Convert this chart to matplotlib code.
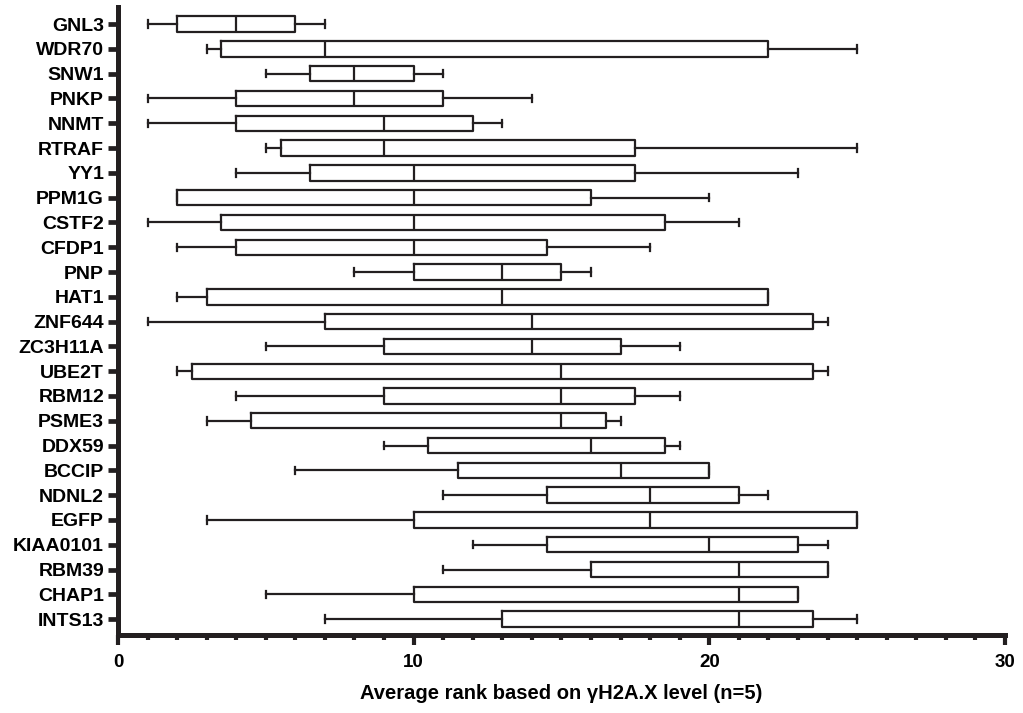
import matplotlib
matplotlib.use("Agg")
import matplotlib.pyplot as plt

# Genes from top to bottom
genes = ["GNL3", "WDR70", "SNW1", "PNKP", "NNMT", "RTRAF", "YY1", "PPM1G",
         "CSTF2", "CFDP1", "PNP", "HAT1", "ZNF644", "ZC3H11A", "UBE2T",
         "RBM12", "PSME3", "DDX59", "BCCIP", "NDNL2", "EGFP", "KIAA0101",
         "RBM39", "CHAP1", "INTS13"]

# min, Q1, median, Q3, max
mins = [1, 3, 5, 1, 1, 5, 4, 2, 1, 2, 8, 2, 1, 5, 2, 4, 3, 9, 6, 11, 3, 12, 11, 5, 7]
q1s = [2, 3.5, 6.5, 4, 4, 5.5, 6.5, 2, 3.5, 4, 10, 3, 7, 9, 2.5, 9, 4.5, 10.5, 11.5,
       14.5, 10, 14.5, 16, 10, 13]
medians = [4, 7, 8, 8, 9, 9, 10, 10, 10, 10, 13, 13, 14, 14, 15, 15, 15, 16, 17, 18,
           18, 20, 21, 21, 21]
q3s = [6, 22, 10, 11, 12, 17.5, 17.5, 16, 18.5, 14.5, 15, 22, 23.5, 17, 23.5, 17.5,
       16.5, 18.5, 20, 21, 25, 23, 24, 23, 23.5]
maxs = [7, 25, 11, 14, 13, 25, 23, 20, 21, 18, 16, 22, 24, 19, 24, 19, 17, 19, 20, 22,
        25, 24, 24, 23, 25]

ink = "#231f20"
plt.rcParams["font.family"] = ["Liberation Sans", "DejaVu Sans"]
plt.rcParams["font.weight"] = "bold"

fig = plt.figure(figsize=(10.23, 7.13), dpi=100)
ax = fig.add_axes([0.1153, 0.1094, 0.8671, 0.8808])

stats = []
for g, lo, a, m, b, hi in zip(genes, mins, q1s, medians, q3s, maxs):
    stats.append({"label": g, "whislo": lo, "q1": a, "med": m, "q3": b,
                  "whishi": hi, "fliers": []})

pos = list(range(len(genes)))
lw = 1.6
ax.bxp(stats, positions=pos, widths=0.62, orientation="horizontal",
       showfliers=False, capwidths=0.3,
       boxprops=dict(color=ink, linewidth=lw),
       whiskerprops=dict(color=ink, linewidth=lw),
       capprops=dict(color=ink, linewidth=lw),
       medianprops=dict(color=ink, linewidth=lw))

ax.set_ylim(24.64, -0.69)
ax.set_xlim(0, 30)

for s in ["top", "right"]:
    ax.spines[s].set_visible(False)
for s in ["left", "bottom"]:
    ax.spines[s].set_linewidth(3.6)
    ax.spines[s].set_color(ink)

ax.set_xticks([0, 10, 20, 30])
ax.set_xticks(range(0, 31), minor=True)
ax.tick_params(axis="x", which="major", length=7, width=3, color=ink,
               labelsize=13.5, pad=7)
ax.tick_params(axis="x", which="minor", length=3.8, width=3, color=ink)
ax.set_yticks(pos)
ax.set_yticklabels(genes)
ax.tick_params(axis="y", which="major", length=7.5, width=3.4, color=ink,
               labelsize=14, pad=2.5)

ax.set_xlabel("Average rank based on γH2A.X level (n=5)", fontsize=14.5,
              fontweight="bold", labelpad=9)

fig.savefig("out.png", dpi=100)
